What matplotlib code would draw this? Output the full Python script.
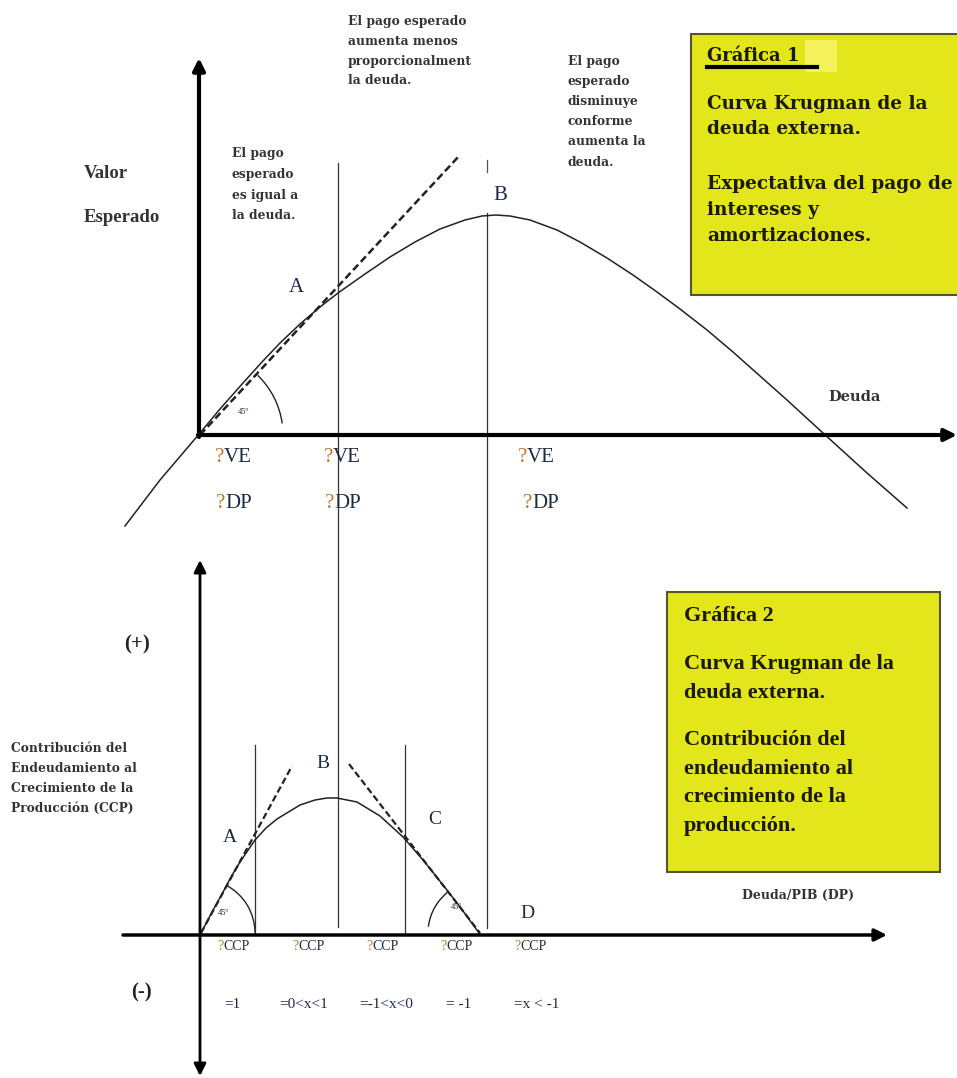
import matplotlib.pyplot as plt
from matplotlib.patches import Arc, Rectangle

# Everything is placed in the pixel space of the scanned figure (957 x 1078, y down)

# Gráfica 1: expected payment (Valor Esperado) vs debt
top_curve_x = [125, 160, 200, 220, 243, 262, 280, 300, 320, 338, 365, 390, 415, 440, 465, 482, 496, 510,
               530, 557, 580, 607, 633, 657, 680, 707, 733, 760, 787, 823, 845, 867, 907]
top_curve_y = [526, 480, 433, 409, 383, 362, 343, 324, 307, 293, 274, 257, 242, 229, 220, 216, 215, 216,
               220, 230, 242, 258, 275, 292, 309, 330, 352, 376, 400, 433, 453, 473, 508]
top_tangent_x = [200, 460]
top_tangent_y = [435, 155]
top_guides_x = [338, 487]
top_guides_top = [163, 213]
top_guides_bottom = [927, 928]
ve_left = [215, 324, 518]
dp_left = [216, 325, 523]

# Gráfica 2: contribution of debt to output growth (CCP) vs Deuda/PIB
bottom_curve_x = [201, 212, 222, 231, 240, 255, 266, 277, 300, 315, 327, 337, 357, 380, 403, 423, 447, 463, 479]
bottom_curve_y = [933, 912, 894, 877, 862, 840, 828, 819, 805, 800, 798, 798, 802, 816, 837, 860, 890, 911, 933]
left_tangent_x = [201, 292]
left_tangent_y = [933, 766]
right_tangent_x = [349, 480]
right_tangent_y = [764, 933]
bottom_guides_x = [255, 405]
bottom_guides_top = [745, 745]
ccp_left = [217, 292, 366, 440, 514]
ccp_ranges = ['=1', '=0<x<1', '=-1<x<0', '= -1', '=x < -1']
ccp_range_x = [232, 304, 386, 459, 537]

NAVY = '#1f2a44'
ORANGE = '#b8762e'
YELLOW = '#e3e61a'
INK = '#333333'
SERIF = 'Liberation Serif'
WIDE = 'DejaVu Serif'

fig = plt.figure(figsize=(9.57, 10.78), dpi=100)
ax = fig.add_axes([0, 0, 1, 1])
ax.set_xlim(0, 957)
ax.set_ylim(1078, 0)
ax.axis('off')


def arrow(start, end, lw, style='-|>'):
    ax.annotate('', xy=end, xytext=start,
                arrowprops=dict(arrowstyle=style, color='black', lw=lw,
                                mutation_scale=18, shrinkA=0, shrinkB=0))


def qlabel(x, y, rest, size, gap):
    ax.text(x, y, '?', color=ORANGE, fontsize=size, family=SERIF, ha='left', va='center')
    ax.text(x + gap, y, rest, color=NAVY, fontsize=size, family=SERIF, ha='left', va='center')


def block(x, y, lines, step, **kw):
    for i, s in enumerate(lines):
        ax.text(x, y + i * step, s, ha='left', va='center', **kw)


# ---------- top chart ----------
for gx, gt, gb in zip(top_guides_x, top_guides_top, top_guides_bottom):
    ax.plot([gx, gx], [gt, gb], color=INK, lw=0.9)
ax.plot([487, 487], [160, 172], color='#555555', lw=0.9)
ax.plot(top_curve_x, top_curve_y, color='#222222', lw=1.1)
ax.plot(top_tangent_x, top_tangent_y, color='#222222', lw=1.8, ls=(0, (3, 1.5)))
ax.add_patch(Arc((200, 435), 166, 166, theta1=-46, theta2=-8, color='#222222', lw=1))
ax.text(243, 412, '45º', fontsize=6, family=SERIF, color=NAVY, ha='center', va='center')
arrow((199, 437), (199, 58), 3)
arrow((198, 435), (957, 435), 3)

ax.text(84, 173, 'Valor', fontsize=13.5, family=SERIF, weight='bold', color=INK, va='center')
ax.text(84, 217, 'Esperado', fontsize=13.5, family=SERIF, weight='bold', color=INK, va='center')
block(348, 22, ['El pago esperado', 'aumenta menos', 'proporcionalment', 'la deuda.'], 19.5,
      fontsize=8.8, family=WIDE, weight='bold', color=INK)
block(568, 61, ['El pago', 'esperado', 'disminuye', 'conforme', 'aumenta la', 'deuda.'], 20.2,
      fontsize=8.8, family=WIDE, weight='bold', color=INK)
block(232, 154, ['El pago', 'esperado', 'es igual a', 'la deuda.'], 20.5,
      fontsize=8.8, family=WIDE, weight='bold', color=INK)
ax.text(296, 287, 'A', fontsize=15, family=SERIF, color=NAVY, ha='center', va='center')
ax.text(500, 196, 'B', fontsize=15, family=SERIF, color=NAVY, ha='center', va='center')
ax.text(855, 397, 'Deuda', fontsize=10.5, family=WIDE, weight='bold', color=INK, ha='center', va='center')
for x in ve_left:
    qlabel(x, 457, 'VE', 15, 9)
for x in dp_left:
    qlabel(x, 504, 'DP', 15, 9)

ax.add_patch(Rectangle((691, 34), 280, 261, facecolor=YELLOW, edgecolor='#55552a', lw=1.5))
ax.add_patch(Rectangle((805, 40), 32, 32, facecolor='#f3f25a', edgecolor='none'))
ax.text(707, 56, 'Gráfica 1', fontsize=13, family=WIDE, weight='bold', color='#1a1a00', va='center')
ax.plot([707, 817], [67, 67], color='black', lw=3)
block(707, 104, ['Curva Krugman de la', 'deuda externa.'], 25.5,
      fontsize=13.3, family=WIDE, weight='bold', color='#1a1a00')
block(707, 184, ['Expectativa del pago de', 'intereses y', 'amortizaciones.'], 26,
      fontsize=13.3, family=WIDE, weight='bold', color='#1a1a00')

# ---------- bottom chart ----------
for gx, gt in zip(bottom_guides_x, bottom_guides_top):
    ax.plot([gx, gx], [gt, 935], color=INK, lw=0.9)
ax.plot(bottom_curve_x, bottom_curve_y, color='#222222', lw=1.1)
ax.plot(left_tangent_x, left_tangent_y, color='#222222', lw=1.6, ls=(0, (3, 1.5)))
ax.plot(right_tangent_x, right_tangent_y, color='#222222', lw=1.6, ls=(0, (3, 1.5)))
ax.add_patch(Arc((201, 933), 108, 108, theta1=-62, theta2=0, color='#222222', lw=1))
ax.add_patch(Arc((480, 933), 104, 104, theta1=-173, theta2=-129, color='#222222', lw=1))
ax.text(223, 913, '45º', fontsize=6, family=SERIF, color=NAVY, ha='center', va='center')
ax.text(456, 907, '45º', fontsize=6, family=SERIF, color=NAVY, ha='center', va='center')
arrow((200, 1076), (200, 560), 2, '<|-|>')
arrow((123, 935), (887, 935), 2.5)

ax.text(137, 644, '(+)', fontsize=15, family=SERIF, weight='bold', color='#222222', ha='center', va='center')
ax.text(141, 992, '(-)', fontsize=15, family=SERIF, weight='bold', color='#222222', ha='center', va='center')
block(11, 748, ['Contribución del', 'Endeudamiento al', 'Crecimiento de la', 'Producción (CCP)'], 20.3,
      fontsize=8.8, family=WIDE, weight='bold', color=INK)
ax.text(798, 895, 'Deuda/PIB (DP)', fontsize=9, family=WIDE, weight='bold', color=INK,
        ha='center', va='center')
ax.text(230, 838, 'A', fontsize=14, family=SERIF, color=NAVY, ha='center', va='center')
ax.text(323, 764, 'B', fontsize=14, family=SERIF, color=NAVY, ha='center', va='center')
ax.text(435, 820, 'C', fontsize=14, family=SERIF, color=NAVY, ha='center', va='center')
ax.text(527, 914, 'D', fontsize=14, family=SERIF, color=NAVY, ha='center', va='center')
for x in ccp_left:
    qlabel(x, 946, 'CCP', 10, 6)
for x, s in zip(ccp_range_x, ccp_ranges):
    ax.text(x, 1004, s, fontsize=11, family=SERIF, color=NAVY, ha='center', va='center')

ax.add_patch(Rectangle((667, 592), 273, 280, facecolor=YELLOW, edgecolor='#55552a', lw=1.5))
ax.text(684, 616, 'Gráfica 2', fontsize=16, family=SERIF, weight='bold', color='#1a1a00', va='center')
block(684, 664, ['Curva Krugman de la', 'deuda externa.'], 29,
      fontsize=16, family=SERIF, weight='bold', color='#1a1a00')
block(684, 740, ['Contribución del', 'endeudamiento al', 'crecimiento de la', 'producción.'], 28.7,
      fontsize=16, family=SERIF, weight='bold', color='#1a1a00')

fig.savefig('out.png', dpi=100)
